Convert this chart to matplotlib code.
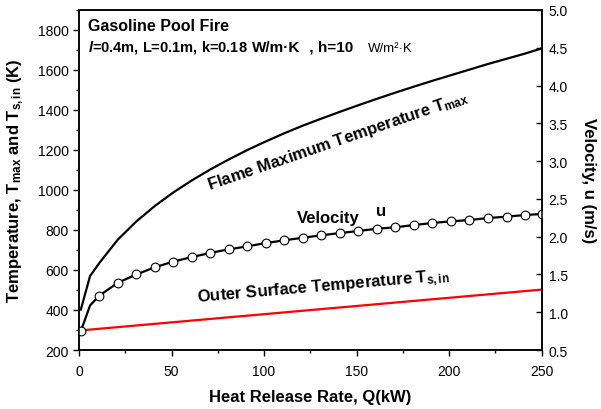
import matplotlib
matplotlib.use("Agg")
import matplotlib.pyplot as plt
from matplotlib.ticker import MultipleLocator

plt.rcParams['font.family'] = ['Liberation Sans', 'DejaVu Sans']
plt.rcParams['mathtext.fontset'] = 'custom'
plt.rcParams['mathtext.rm'] = 'Liberation Sans'
plt.rcParams['mathtext.bf'] = 'Liberation Sans:bold'
plt.rcParams['mathtext.it'] = 'Liberation Sans:italic:bold'

# heat release rate (kW)
q_curve = [1, 6, 11, 21, 31, 41, 51, 61, 71, 81, 91, 101, 111, 121, 131,
           141, 151, 161, 171, 181, 191, 201, 211, 221, 231, 241, 250]
# flame maximum temperature (K)
t_max = [402, 570, 635, 752, 843, 920, 988, 1048, 1103, 1153, 1200, 1243, 1284,
         1322, 1357, 1391, 1424, 1456, 1487, 1517, 1546, 1574, 1602, 1630,
         1656, 1682, 1708]
# velocity (m/s)
u_vel = [0.75, 1.09, 1.22, 1.39, 1.50, 1.595, 1.67, 1.73, 1.785, 1.833, 1.872,
         1.916, 1.952, 1.986, 2.018, 2.048, 2.075, 2.105, 2.124, 2.154, 2.181,
         2.203, 2.22, 2.247, 2.264, 2.287, 2.30]
# outer surface temperature (K)
q_ts = [1, 250]
t_sin = [298, 502]

fig = plt.figure(figsize=(6.01, 4.10), dpi=100)
ax = fig.add_axes([0.1314, 0.1439, 0.7699, 0.8293])
ax2 = ax.twinx()

ax.plot(q_curve, t_max, color='black', lw=1.6)
ax.plot(q_ts, t_sin, color='red', lw=1.6)
marks = [i for i in range(len(q_curve)) if i != 1]
ax2.plot(q_curve, u_vel, color='black', lw=1.6, marker='o', ms=6.3,
         mfc='white', mec='black', mew=0.8, markevery=marks)

ax.set_xlim(0, 250)
ax.set_ylim(200, 1900)
ax2.set_ylim(0.5, 5.0)

ax.xaxis.set_major_locator(MultipleLocator(50))
ax.xaxis.set_minor_locator(MultipleLocator(25))
ax.yaxis.set_major_locator(MultipleLocator(200))
ax.yaxis.set_minor_locator(MultipleLocator(100))
ax2.yaxis.set_major_locator(MultipleLocator(0.5))

for a in (ax, ax2):
    for s in a.spines.values():
        s.set_linewidth(1.1)
ax.tick_params(axis='both', which='major', direction='out', length=4.5,
               width=1.0, labelsize=10, top=False)
ax.tick_params(axis='both', which='minor', direction='out', length=2.5,
               width=1.0, top=False)
ax.tick_params(axis='x', pad=5.5)
ax.tick_params(axis='y', pad=3)
ax2.tick_params(axis='y', which='major', direction='in', length=4.5,
                width=1.0, labelsize=10, pad=5)
ax2.yaxis.set_major_formatter(plt.FuncFormatter(lambda v, p: f"{v:.1f}"))

ax.set_xlabel("Heat Release Rate, Q(kW)", fontsize=12, fontweight='bold',
              labelpad=8)
ax.set_ylabel(r"Temperature, T$_{\mathbf{max}}$ and T$_{\mathbf{s,in}}$ (K)",
              fontsize=12, fontweight='bold', labelpad=8)
ax2.set_ylabel("Velocity, u (m/s)", fontsize=12, fontweight='bold',
               rotation=270, labelpad=20)

# header text
fig.text(88 / 601, 1 - 31 / 410, "Gasoline Pool Fire", fontsize=11.5,
         fontweight='bold', va='baseline')
fig.text(88 / 601, 1 - 52 / 410, r"$\mathit{l}$=0.4m, L=0.1m, k=0.18",
         fontsize=10.5, fontweight='bold', va='baseline')
fig.text(252 / 601, 1 - 52 / 410, "W/m·K", fontsize=11,
         fontweight='bold', va='baseline')
fig.text(305 / 601, 1 - 52 / 410, " , h=10", fontsize=11,
         fontweight='bold', va='baseline')
fig.text(368 / 601, 1 - 52 / 410, "W/m²·K", fontsize=9.5, va='baseline')

# curve labels
ax.text(140, 1248, r"Flame Maximum Temperature T$_{\mathbf{max}}$",
        fontsize=12, fontweight='bold', rotation=19, rotation_mode='anchor',
        ha='center', va='center')
ax.text(134.5, 840, "Velocity", fontsize=12, fontweight='bold',
        ha='center', va='baseline')
ax.text(163.3, 873, "u", fontsize=12, fontweight='bold',
        ha='center', va='baseline')
ax.text(132, 516, r"Outer Surface Temperature T$_{\mathbf{s,in}}$",
        fontsize=12, fontweight='bold', rotation=5, rotation_mode='anchor',
        ha='center', va='center')

fig.savefig("out.png", dpi=100)
